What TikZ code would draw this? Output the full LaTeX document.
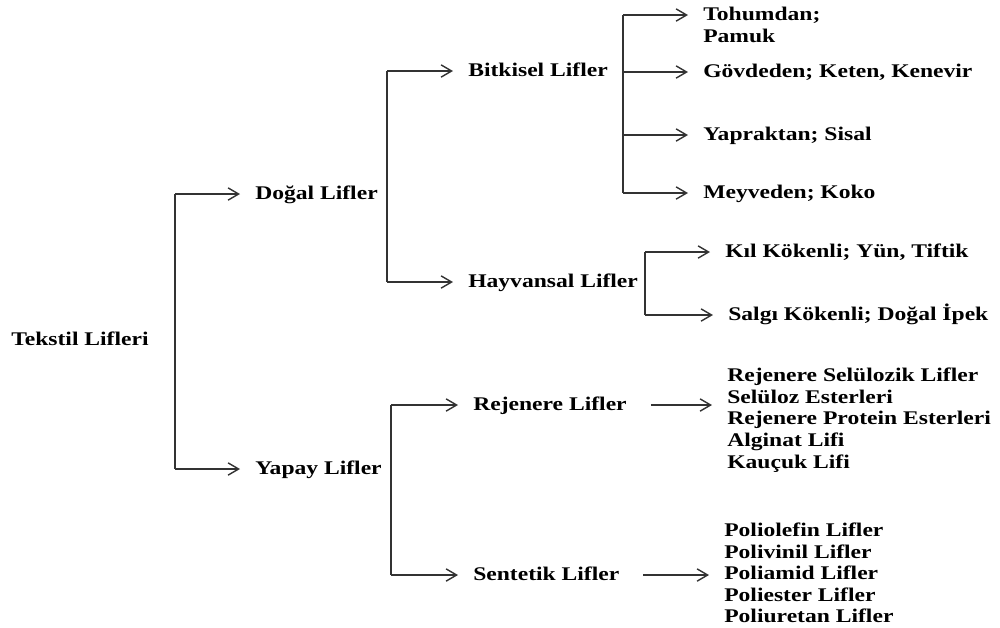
\documentclass[tikz,border=0pt]{standalone}
\usepackage{fontspec}
\setmainfont{Liberation Serif}[FakeStretch=1.22]
\usetikzlibrary{arrows.meta}

\newcommand\lblfont{\fontsize{11}{12.3}\selectfont\bfseries}

\begin{document}
\begin{tikzpicture}[
    x=0.02cm, y=-0.02cm,
    txt/.style={anchor=west, inner xsep=8.5pt, inner ysep=1pt, font=\lblfont},
    lbl/.style={txt, text height=1.6ex, text depth=.3ex},
    list/.style={txt, align=left},
    bus/.style={line width=.8pt, draw=black!80},
    arrow/.style={bus, ->, >={Straight Barb[length=6pt, width=7pt]}}
]
\useasboundingbox (0,0) rectangle (1000,627);

% Nodes
\node[lbl] (tekstil) at (-4,340) {Tekstil Lifleri};

\node[lbl] (dogal) at (240,194) {Doğal Lifler};
\node[lbl] (yapay) at (240,469) {Yapay Lifler};

\node[lbl] (bitkisel) at (453,71) {Bitkisel Lifler};
\node[lbl] (hayvansal) at (453,282) {Hayvansal Lifler};
\node[lbl] (rejenere) at (458,405) {Rejenere Lifler};
\node[lbl] (sentetik) at (458,575) {Sentetik Lifler};

\node[list] (tohum) at (688,25) {Tohumdan;\\Pamuk};
\node[lbl] (govde) at (688,72) {Gövdeden; Keten, Kenevir};
\node[lbl] (yaprak) at (688,135) {Yapraktan; Sisal};
\node[lbl] (meyve) at (688,193) {Meyveden; Koko};

\node[lbl] (kil) at (710,252) {Kıl Kökenli; Yün, Tiftik};
\node[lbl] (salgi) at (713,315) {Salgı Kökenli; Doğal İpek};

\node[list] (rlist) at (712,420) {%
  Rejenere Selülozik Lifler\\
  Selüloz Esterleri\\
  Rejenere Protein Esterleri\\
  Alginat Lifi\\
  Kauçuk Lifi
};
\node[list] (slist) at (709,573) {%
  Poliolefin Lifler\\
  Polivinil Lifler\\
  Poliamid Lifler\\
  Poliester Lifler\\
  Poliuretan Lifler
};

% Bus lines
\coordinate (tb) at (175,0);
\coordinate (db) at (387,0);
\coordinate (yb) at (391,0);
\coordinate (bb) at (623,15);
\coordinate (hb) at (645,0);

\draw[bus] (tb |- dogal) -- (tb |- yapay);
\draw[bus] (db |- bitkisel) -- (db |- hayvansal);
\draw[bus] (yb |- rejenere) -- (yb |- sentetik);
\draw[bus] (bb) -- (bb |- meyve);
\draw[bus] (hb |- kil) -- (hb |- salgi);

% Arrows
\draw[arrow] (tb |- dogal) -- (dogal);
\draw[arrow] (tb |- yapay) -- (yapay);
\draw[arrow] (db |- bitkisel) -- (bitkisel);
\draw[arrow] (db |- hayvansal) -- (hayvansal);
\draw[arrow] (yb |- rejenere) -- (rejenere);
\draw[arrow] (yb |- sentetik) -- (sentetik);
\draw[arrow] (bb) -- (bb -| tohum.west);
\draw[arrow] (bb |- govde) -- (govde);
\draw[arrow] (bb |- yaprak) -- (yaprak);
\draw[arrow] (bb |- meyve) -- (meyve);
\draw[arrow] (hb |- kil) -- (kil);
\draw[arrow] (hb |- salgi) -- (salgi);
\draw[arrow, shorten <=5pt] (rejenere) -- (rejenere -| rlist.west);
\draw[arrow, shorten <=5pt] (sentetik) -- (sentetik -| slist.west);

\end{tikzpicture}
\end{document}
